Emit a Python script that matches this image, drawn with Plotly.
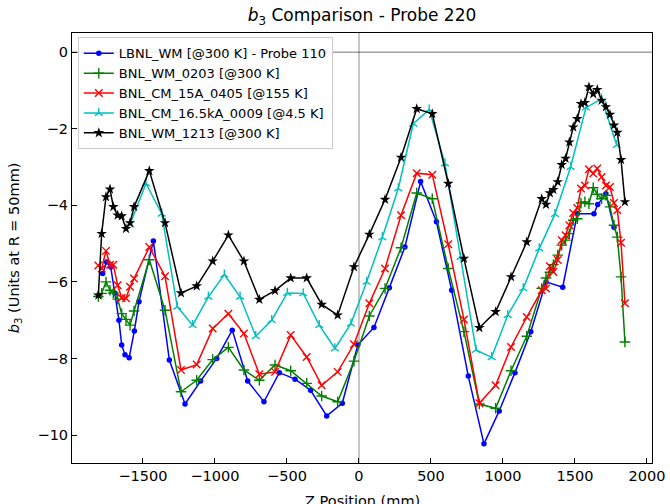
import plotly.graph_objects as go

# ---------------- data ----------------
# shared Z grid of the BNL measurements (mm)
z_bnl = [-1810, -1787, -1757, -1729, -1706, -1676, -1648, -1618, -1590, -1562,
         -1456, -1347, -1236, -1127, -1016, -907, -799, -692, -583, -474,
         -363, -259, -148, -35, 72, 181, 292, 401, 509, 620,
         729, 836, 949, 1056, 1165, 1269, 1299, 1326, 1350, 1380,
         1408, 1435, 1461, 1488, 1516, 1542, 1569, 1597, 1627, 1655,
         1685, 1715, 1743, 1771, 1794, 1820, 1847]

b3_wm_1213 = [-6.35, -4.74, -3.78, -3.58, -4.04, -4.26, -4.28, -4.61, -4.46, -4.04,
              -3.10, -4.46, -6.29, -6.11, -5.46, -4.78, -5.46, -6.46, -6.23, -5.90,
              -5.90, -6.59, -6.87, -5.61, -4.76, -3.85, -2.75, -1.48, -1.61, -3.43,
              -5.39, -7.20, -6.78, -5.87, -4.96, -3.83, -3.98, -3.68, -3.59, -3.39,
              -2.94, -2.78, -2.35, -1.96, -1.74, -1.35, -1.32, -0.91, -1.09, -0.98,
              -1.26, -1.43, -1.63, -1.91, -2.10, -2.81, -3.91]

b3_cm_15a = [-5.57, -5.65, -5.19, -5.55, -5.55, -6.09, -6.42, -6.43, -6.13, -5.91,
             -5.09, -5.85, -8.30, -8.16, -7.22, -6.83, -7.35, -8.41, -8.35, -7.39,
             -7.96, -8.70, -8.35, -7.63, -6.56, -5.65, -4.26, -3.16, -3.20, -5.02,
             -6.98, -9.17, -8.70, -7.70, -6.92, -6.22, -6.17, -5.59, -5.74, -5.43,
             -4.91, -4.78, -4.52, -4.20, -4.07, -3.56, -3.48, -3.06, -3.17, -3.04,
             -3.26, -3.48, -3.52, -3.94, -4.13, -4.98, -6.56]

b3_wm_0203 = [-6.38, -6.30, -6.00, -6.22, -6.29, -6.45, -6.83, -6.98, -7.13, -6.76,
              -5.42, -6.74, -8.87, -8.57, -8.03, -7.71, -8.30, -8.57, -8.17, -8.32,
              -8.65, -8.98, -9.13, -8.07, -6.89, -6.17, -5.11, -3.68, -3.83, -5.65,
              -7.30, -9.19, -9.30, -8.32, -7.42, -6.17, -5.90, -5.75, -5.55, -5.30,
              -5.04, -4.91, -4.74, -4.39, -4.35, -3.94, -3.91, -3.96, -3.54, -3.71,
              -3.83, -3.74, -4.04, -4.52, -4.83, -5.87, -7.57]

z_cm_16k = [-1590, -1479, -1370, -1262, -1155, -1046, -935, -826, -717, -606,
            -498, -387, -276, -167, -56, 53, 162, 273, 377, 488,
            597, 706, 813, 921, 1033, 1141, 1252, 1361, 1470, 1576,
            1685, 1790]
b3_cm_16k = [-4.50, -3.43, -4.22, -6.65, -7.13, -6.39, -5.81, -6.39, -7.42, -7.00,
             -6.29, -6.30, -7.13, -7.74, -7.09, -6.00, -4.84, -3.56, -1.87, -1.50,
             -2.91, -5.35, -7.78, -7.97, -6.87, -6.17, -5.13, -4.23, -3.00, -1.45,
             -1.22, -2.43]

z_lbnl = [-1780, -1752, -1724, -1694, -1667, -1648, -1625, -1596, -1560, -1528,
          -1428, -1317, -1208, -1100, -988, -880, -773, -660, -553, -444,
          -336, -224, -116, -8, 104, 211, 319, 428, 538, 644,
          759, 868, 974, 1083, 1193, 1299, 1415, 1516, 1632, 1658,
          1715, 1771]
b3_lbnl = [-5.78, -5.48, -5.61, -6.30, -7.00, -7.65, -7.90, -7.98, -7.28, -6.52,
           -4.93, -8.04, -9.19, -8.59, -8.00, -7.26, -8.59, -9.13, -8.37, -8.54,
           -8.83, -9.50, -9.17, -7.65, -7.19, -6.15, -5.09, -3.38, -4.43, -6.22,
           -8.46, -10.23, -9.37, -8.37, -7.30, -6.00, -6.14, -4.22, -4.22, -3.98,
           -3.70, -4.57]

series_names = ["LBNL_WM [@300 K] - Probe 110",
                "BNL_WM_0203 [@300 K]",
                "BNL_CM_15A_0405 [@155 K]",
                "BNL_CM_16.5kA_0009 [@4.5 K]",
                "BNL_WM_1213 [@300 K]"]

x_ticks = [-1500, -1000, -500, 0, 500, 1000, 1500, 2000]
y_ticks = [0, -2, -4, -6, -8, -10]

# ---------------- figure ----------------
FONT = "DejaVu Sans"
fig = go.Figure()

fig.add_trace(go.Scatter(x=z_lbnl, y=b3_lbnl, name=series_names[0], mode="lines+markers",
                         line=dict(color="#0000ff", width=1.5),
                         marker=dict(symbol="circle", size=5.5, color="#0000ff")))
fig.add_trace(go.Scatter(x=z_bnl, y=b3_wm_0203, name=series_names[1], mode="lines+markers",
                         line=dict(color="#008000", width=1.5),
                         marker=dict(symbol="cross-thin", size=7.5, color="#008000",
                                     line=dict(color="#008000", width=1.4))))
fig.add_trace(go.Scatter(x=z_bnl, y=b3_cm_15a, name=series_names[2], mode="lines+markers",
                         line=dict(color="#ff0000", width=1.5),
                         marker=dict(symbol="x-thin", size=7.5, color="#ff0000",
                                     line=dict(color="#ff0000", width=1.4))))
fig.add_trace(go.Scatter(x=z_cm_16k, y=b3_cm_16k, name=series_names[3], mode="lines+markers",
                         line=dict(color="#00bfbf", width=1.5),
                         marker=dict(symbol="y-up-open", size=6.5, color="#00bfbf",
                                     line=dict(color="#00bfbf", width=1.4))))
fig.add_trace(go.Scatter(x=z_bnl, y=b3_wm_1213, name=series_names[4], mode="lines+markers",
                         line=dict(color="#000000", width=1.5),
                         marker=dict(symbol="star", size=8, color="#000000")))

fig.add_hline(y=0, line=dict(color="rgba(0,0,0,0.55)", width=1), layer="below")
fig.add_vline(x=0, line=dict(color="rgba(0,0,0,0.45)", width=1), layer="below")

axis_common = dict(showline=True, linecolor="black", linewidth=1, mirror=True,
                   ticks="inside", ticklen=5, tickcolor="black", tickwidth=1,
                   showgrid=False, zeroline=False,
                   tickfont=dict(family=FONT, size=14.5, color="black"))

fig.update_xaxes(range=[-1993, 2035], tickvals=x_ticks, **axis_common)
fig.update_yaxes(range=[-10.73, 0.5], tickvals=y_ticks, **axis_common)

fig.update_layout(
    width=670, height=504,
    margin=dict(l=72, r=18, t=33, b=41, autoexpand=False),
    paper_bgcolor="white", plot_bgcolor="white",
    font=dict(family=FONT, color="black"),
    title=dict(text="<i>b</i><sub>3</sub> Comparison - Probe 220",
               x=0.5, xref="paper", xanchor="center",
               y=1 - 15 / 504, yanchor="middle",
               font=dict(family=FONT, size=17, color="black")),
    legend=dict(x=0.01, y=0.99, xanchor="left", yanchor="top",
                bgcolor="rgba(255,255,255,0.85)", bordercolor="#cccccc", borderwidth=1,
                font=dict(family=FONT, size=13, color="black"),
                itemwidth=30, tracegroupgap=0),
    showlegend=True,
    annotations=[
        dict(text="<i>b</i><sub>3</sub> (Units at R = 50mm)", textangle=-90,
             xref="paper", yref="paper", x=-0.098, y=0.5,
             xanchor="center", yanchor="middle", showarrow=False,
             font=dict(family=FONT, size=14.5, color="black")),
        dict(text="Z Position (mm)", xref="paper", yref="paper", x=0.5, y=-0.066,
             xanchor="center", yanchor="top", showarrow=False,
             font=dict(family=FONT, size=14.5, color="black")),
    ],
)

fig.write_html("out.html")
